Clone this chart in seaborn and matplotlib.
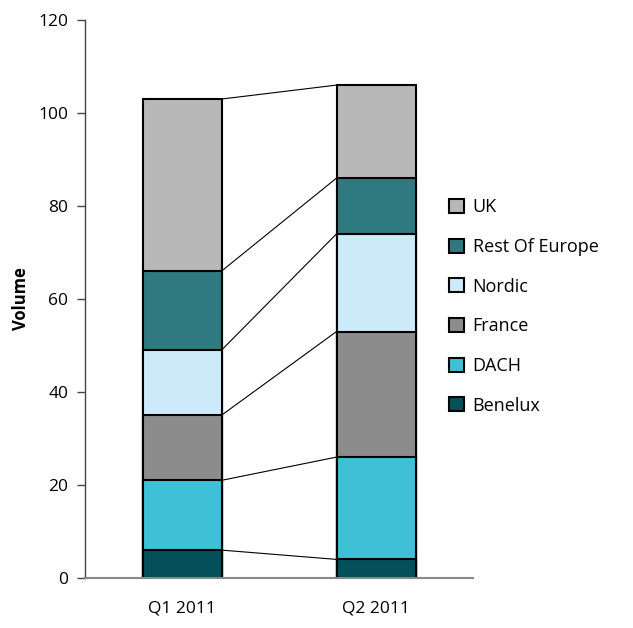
import matplotlib
matplotlib.use("Agg")
import matplotlib.pyplot as plt
import seaborn as sns
import pandas as pd
import numpy as np
from matplotlib.patches import Patch

quarters = ["Q1 2011", "Q2 2011"]
regions = ["Benelux", "DACH", "France", "Nordic", "Rest Of Europe", "UK"]
benelux = [6, 4]
dach = [15, 22]
france = [14, 27]
nordic = [14, 21]
rest_of_europe = [17, 12]
uk = [37, 20]
colors = ["#034f5a", "#40c0d6", "#8c8c8c", "#cdeafa", "#2e7a80", "#b8b8b8"]

series = [benelux, dach, france, nordic, rest_of_europe, uk]
cum = np.cumsum(np.array(series), axis=0)

sns.set_theme(style="white")
plt.rcParams['font.family'] = ['Open Sans', 'DejaVu Sans']

fig = plt.figure(figsize=(6.33, 6.28), dpi=100)
ax = fig.add_axes([85/633, 50/628, 388/633, 558/628])

width = 79/194
# draw cumulative bars from top series down so lower segments overlay
for i in range(len(regions) - 1, -1, -1):
    df = pd.DataFrame({"quarter": quarters, "value": cum[i]})
    sns.barplot(data=df, x="quarter", y="value", color=colors[i], width=width,
                edgecolor="black", linewidth=1.5, saturation=1, ax=ax, zorder=2)

# connector lines
for i in range(len(regions)):
    ax.plot([width/2, 1 - width/2], [cum[i][0], cum[i][1]], color="black", lw=0.8, zorder=1)

ax.set_xlim(-0.5, 1.5)
ax.set_ylim(0, 120)
ax.set_yticks(range(0, 121, 20))
ax.set_xticks([0, 1])
ax.set_xticks([-0.5, 0.5, 1.5], minor=True)
ax.tick_params(axis="x", which="major", length=0, labelsize=12.5, pad=16, labelcolor="black")
ax.tick_params(axis="x", which="minor", length=6, width=1, color="#444444", direction="in")
ax.tick_params(axis="y", which="major", length=6, width=1, color="#444444", direction="out",
               labelsize=12.5, left=True, labelcolor="black", pad=6)
ax.set_xlabel("")
ax.set_ylabel("Volume", fontsize=12, fontweight="bold", labelpad=6, color="black")
for s in ["top", "right"]:
    ax.spines[s].set_visible(False)
ax.spines["left"].set_color("#444444")
ax.spines["bottom"].set_color("#888888")
ax.spines["left"].set_linewidth(1)
ax.spines["bottom"].set_linewidth(1.5)

handles = [Patch(facecolor=colors[i], edgecolor="black", linewidth=1.5, label=regions[i])
           for i in range(len(regions) - 1, -1, -1)]
fig.legend(handles=handles, loc="upper left", bbox_to_anchor=(433/633, 1 - 182/628),
           frameon=False, fontsize=13, handlelength=0.8, handleheight=0.8,
           labelspacing=1.2, handletextpad=0.5, labelcolor="black")

fig.savefig("out.png", dpi=100)
